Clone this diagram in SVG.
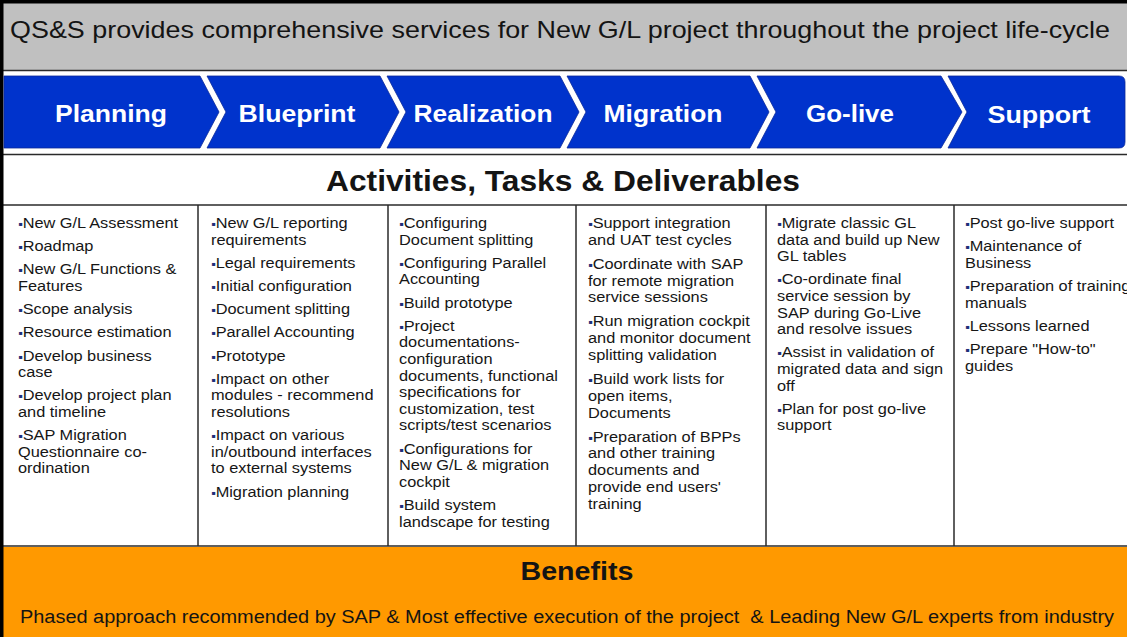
<svg xmlns="http://www.w3.org/2000/svg" width="1127" height="637" viewBox="0 0 1127 637">
  <style>
    .title { font-family: "Liberation Sans", Arial, sans-serif; fill: #141414; }
    .phase { font-family: "Liberation Sans", Arial, sans-serif; font-weight: bold; font-size: 24px; fill: #ffffff; text-anchor: middle; }
    .chev { fill: #0033cc; stroke: #0a2a9a; stroke-width: 0.8; }
    .rule { stroke: #2a2a2a; stroke-width: 1.5; fill: none; }
    .item { font-family: "Liberation Sans", Arial, sans-serif; font-size: 15px; fill: #161616; }
    .b { fill: #1f2f7a; font-size: 12px; }
  </style>

  <!-- page background and frame -->
  <rect x="0" y="0" width="1127" height="637" fill="#ffffff"/>
  <rect x="3" y="3" width="1124" height="67" fill="#c0c0c0"/>
  <rect x="3" y="547" width="1124" height="90" fill="#ff9900"/>

  <!-- table rules -->
  <g id="rules">
    <line class="rule" x1="3" y1="70.5" x2="1127" y2="70.5"/>
    <line class="rule" x1="3" y1="154.5" x2="1127" y2="154.5"/>
    <line class="rule" x1="3" y1="205" x2="1127" y2="205"/>
    <line class="rule" x1="3" y1="546" x2="1127" y2="546"/>
    <line class="rule" x1="198" y1="205" x2="198" y2="546"/>
    <line class="rule" x1="388" y1="205" x2="388" y2="546"/>
    <line class="rule" x1="576" y1="205" x2="576" y2="546"/>
    <line class="rule" x1="766" y1="205" x2="766" y2="546"/>
    <line class="rule" x1="954" y1="205" x2="954" y2="546"/>
  </g>
  <rect x="0" y="0" width="1127" height="3.5" fill="#000000"/>
  <rect x="0" y="0" width="3.5" height="637" fill="#000000"/>

  <!-- header -->
  <g id="header">
    <text class="title" x="10" y="37.5" font-size="24" textLength="1100" lengthAdjust="spacingAndGlyphs">QS&amp;S provides comprehensive services for New G/L project throughout the project life-cycle</text>
  </g>

  <!-- phase chevrons -->
  <g id="phase-planning">
    <polygon class="chev" points="4,76 200,76 219,112 200,148 4,148"/>
    <text class="phase" x="111" y="121.5" textLength="112" lengthAdjust="spacingAndGlyphs">Planning</text>
  </g>
  <g id="phase-blueprint">
    <polygon class="chev" points="207,76 380,76 399,112 380,148 207,148 226,112"/>
    <text class="phase" x="297" y="121.5" textLength="117" lengthAdjust="spacingAndGlyphs">Blueprint</text>
  </g>
  <g id="phase-realization">
    <polygon class="chev" points="387,76 560,76 579,112 560,148 387,148 406,112"/>
    <text class="phase" x="483" y="121.5" textLength="139" lengthAdjust="spacingAndGlyphs">Realization</text>
  </g>
  <g id="phase-migration">
    <polygon class="chev" points="567,76 750,76 769,112 750,148 567,148 586,112"/>
    <text class="phase" x="663" y="121.5" textLength="119" lengthAdjust="spacingAndGlyphs">Migration</text>
  </g>
  <g id="phase-golive">
    <polygon class="chev" points="757,76 941,76 962,112 941,148 757,148 776,112"/>
    <text class="phase" x="850" y="121.5" textLength="88" lengthAdjust="spacingAndGlyphs">Go-live</text>
  </g>
  <g id="phase-support">
    <path class="chev" d="M948,76 H1119 Q1125,76 1125,82 V142 Q1125,148 1119,148 H948 L967,112 Z"/>
    <text class="phase" x="1039" y="123" textLength="103" lengthAdjust="spacingAndGlyphs">Support</text>
  </g>

  <!-- section heading -->
  <g id="activities-heading">
    <text class="title" x="563" y="191" font-size="29" font-weight="bold" text-anchor="middle" textLength="474" lengthAdjust="spacingAndGlyphs">Activities, Tasks &amp; Deliverables</text>
  </g>

  <!-- activity columns -->
  <g id="col-planning" class="item" transform="translate(18,0) scale(1.09,1)">
    <text x="0" y="228"><tspan class="b">▪</tspan>New G/L Assessment</text>
    <text x="0" y="251.2"><tspan class="b">▪</tspan>Roadmap</text>
    <text x="0" y="274.4"><tspan class="b">▪</tspan>New G/L Functions &amp;<tspan x="0" dy="16.6">Features</tspan></text>
    <text x="0" y="314.2"><tspan class="b">▪</tspan>Scope analysis</text>
    <text x="0" y="337.4"><tspan class="b">▪</tspan>Resource estimation</text>
    <text x="0" y="360.6"><tspan class="b">▪</tspan>Develop business<tspan x="0" dy="16.6">case</tspan></text>
    <text x="0" y="400.4"><tspan class="b">▪</tspan>Develop project plan<tspan x="0" dy="16.6">and timeline</tspan></text>
    <text x="0" y="440.2"><tspan class="b">▪</tspan>SAP Migration<tspan x="0" dy="16.6">Questionnaire co-</tspan><tspan x="0" dy="16.6">ordination</tspan></text>
  </g>

  <g id="col-blueprint" class="item" transform="translate(211,0) scale(1.09,1)">
    <text x="0" y="228"><tspan class="b">▪</tspan>New G/L reporting<tspan x="0" dy="16.6">requirements</tspan></text>
    <text x="0" y="267.8"><tspan class="b">▪</tspan>Legal requirements</text>
    <text x="0" y="291"><tspan class="b">▪</tspan>Initial configuration</text>
    <text x="0" y="314.2"><tspan class="b">▪</tspan>Document splitting</text>
    <text x="0" y="337.4"><tspan class="b">▪</tspan>Parallel Accounting</text>
    <text x="0" y="360.6"><tspan class="b">▪</tspan>Prototype</text>
    <text x="0" y="383.8"><tspan class="b">▪</tspan>Impact on other<tspan x="0" dy="16.6">modules - recommend</tspan><tspan x="0" dy="16.6">resolutions</tspan></text>
    <text x="0" y="440.2"><tspan class="b">▪</tspan>Impact on various<tspan x="0" dy="16.6">in/outbound interfaces</tspan><tspan x="0" dy="16.6">to external systems</tspan></text>
    <text x="0" y="496.6"><tspan class="b">▪</tspan>Migration planning</text>
  </g>

  <g id="col-realization" class="item" transform="translate(399,0) scale(1.09,1)">
    <text x="0" y="228"><tspan class="b">▪</tspan>Configuring<tspan x="0" dy="16.6">Document splitting</tspan></text>
    <text x="0" y="267.8"><tspan class="b">▪</tspan>Configuring Parallel<tspan x="0" dy="16.6">Accounting</tspan></text>
    <text x="0" y="307.6"><tspan class="b">▪</tspan>Build prototype</text>
    <text x="0" y="330.8"><tspan class="b">▪</tspan>Project<tspan x="0" dy="16.6">documentations-</tspan><tspan x="0" dy="16.6">configuration</tspan><tspan x="0" dy="16.6">documents, functional</tspan><tspan x="0" dy="16.6">specifications for</tspan><tspan x="0" dy="16.6">customization, test</tspan><tspan x="0" dy="16.6">scripts/test scenarios</tspan></text>
    <text x="0" y="453.6"><tspan class="b">▪</tspan>Configurations for<tspan x="0" dy="16.6">New G/L &amp; migration</tspan><tspan x="0" dy="16.6">cockpit</tspan></text>
    <text x="0" y="510"><tspan class="b">▪</tspan>Build system<tspan x="0" dy="16.6">landscape for testing</tspan></text>
  </g>

  <g id="col-migration" class="item" transform="translate(588,0) scale(1.09,1)">
    <text x="0" y="228"><tspan class="b">▪</tspan>Support integration<tspan x="0" dy="16.8">and UAT test cycles</tspan></text>
    <text x="0" y="268.8"><tspan class="b">▪</tspan>Coordinate with SAP<tspan x="0" dy="16.8">for remote migration</tspan><tspan x="0" dy="16.8">service sessions</tspan></text>
    <text x="0" y="326.4"><tspan class="b">▪</tspan>Run migration cockpit<tspan x="0" dy="16.8">and monitor document</tspan><tspan x="0" dy="16.8">splitting validation</tspan></text>
    <text x="0" y="384"><tspan class="b">▪</tspan>Build work lists for<tspan x="0" dy="16.8">open items,</tspan><tspan x="0" dy="16.8">Documents</tspan></text>
    <text x="0" y="441.6"><tspan class="b">▪</tspan>Preparation of BPPs<tspan x="0" dy="16.8">and other training</tspan><tspan x="0" dy="16.8">documents and</tspan><tspan x="0" dy="16.8">provide end users'</tspan><tspan x="0" dy="16.8">training</tspan></text>
  </g>

  <g id="col-golive" class="item" transform="translate(777,0) scale(1.09,1)">
    <text x="0" y="228"><tspan class="b">▪</tspan>Migrate classic GL<tspan x="0" dy="16.6">data and build up New</tspan><tspan x="0" dy="16.6">GL tables</tspan></text>
    <text x="0" y="284.4"><tspan class="b">▪</tspan>Co-ordinate final<tspan x="0" dy="16.6">service session by</tspan><tspan x="0" dy="16.6">SAP during Go-Live</tspan><tspan x="0" dy="16.6">and resolve issues</tspan></text>
    <text x="0" y="357.4"><tspan class="b">▪</tspan>Assist in validation of<tspan x="0" dy="16.6">migrated data and sign</tspan><tspan x="0" dy="16.6">off</tspan></text>
    <text x="0" y="413.8"><tspan class="b">▪</tspan>Plan for post go-live<tspan x="0" dy="16.6">support</tspan></text>
  </g>

  <g id="col-support" class="item" transform="translate(965,0) scale(1.09,1)">
    <text x="0" y="228"><tspan class="b">▪</tspan>Post go-live support</text>
    <text x="0" y="251.2"><tspan class="b">▪</tspan>Maintenance of<tspan x="0" dy="16.6">Business</tspan></text>
    <text x="0" y="291"><tspan class="b">▪</tspan>Preparation of training<tspan x="0" dy="16.6">manuals</tspan></text>
    <text x="0" y="330.8"><tspan class="b">▪</tspan>Lessons learned</text>
    <text x="0" y="354"><tspan class="b">▪</tspan>Prepare "How-to"<tspan x="0" dy="16.6">guides</tspan></text>
  </g>

  <!-- benefits band -->
  <g id="benefits">
    <text class="title" x="577" y="580" font-size="26" font-weight="bold" text-anchor="middle" textLength="113" lengthAdjust="spacingAndGlyphs">Benefits</text>
    <text class="title" x="20" y="623" font-size="18" xml:space="preserve" style="white-space:pre" fill="#2a2a2a" textLength="1094" lengthAdjust="spacingAndGlyphs">Phased approach recommended by SAP &amp; Most effective execution of the project  &amp; Leading New G/L experts from industry</text>
  </g>
</svg>
